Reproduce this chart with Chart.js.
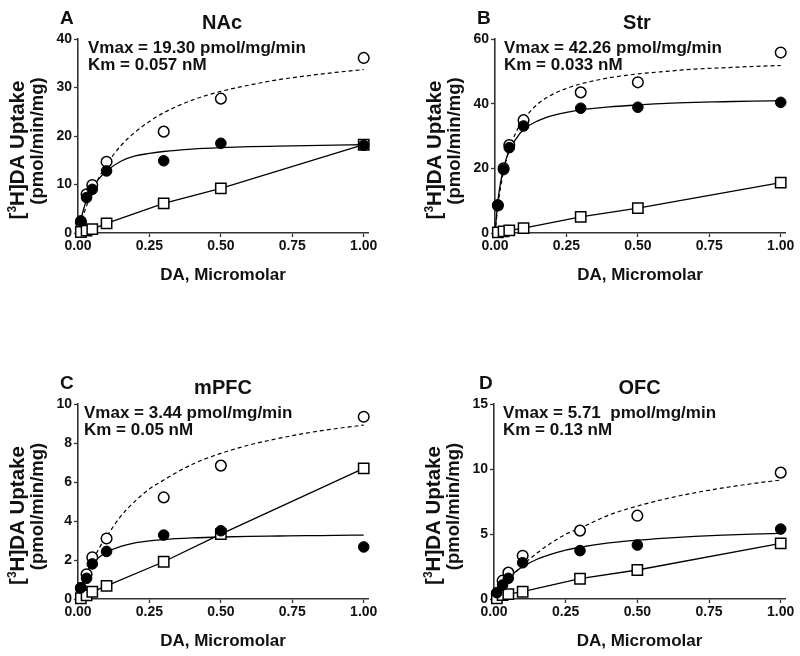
<!DOCTYPE html>
<html>
<head>
<meta charset="utf-8">
<script src="https://cdn.jsdelivr.net/npm/chart.js@4.4.1/dist/chart.umd.min.js"></script>
<style>
html,body{margin:0;padding:0;background:#fff;width:800px;height:656px;overflow:hidden;}
canvas{position:absolute;}
</style>
</head>
<body>
<canvas id="cA" width="400" height="290" style="left:0px;top:0px"></canvas>
<canvas id="cB" width="400" height="290" style="left:400px;top:0px"></canvas>
<canvas id="cC" width="400" height="290" style="left:0px;top:366px"></canvas>
<canvas id="cD" width="400" height="290" style="left:400px;top:366px"></canvas>
<script>
// ---------- data ----------
const X_TICKS = [0, 0.25, 0.5, 0.75, 1.0];
const DOSE = [0.01, 0.03, 0.05, 0.1, 0.3, 0.5, 1.0];
const FIT_X = [0, 0.01, 0.02, 0.03, 0.05, 0.075, 0.1, 0.15, 0.2, 0.25, 0.3, 0.4, 0.5, 0.6, 0.7, 0.8, 0.9, 1.0];

const PANEL_LETTERS = ["A", "B", "C", "D"];
const PANEL_TITLES = ["NAc", "Str", "mPFC", "OFC"];
const VMAX_LINES = ["Vmax = 19.30 pmol/mg/min", "Vmax = 42.26 pmol/mg/min", "Vmax = 3.44 pmol/mg/min", "Vmax = 5.71  pmol/mg/min"];
const KM_LINES = ["Km = 0.057 nM", "Km = 0.033 nM", "Km = 0.05 nM", "Km = 0.13 nM"];
const X_TITLE = "DA, Micromolar";
const Y_TITLE_PRE = "[";
const Y_TITLE_SUP = "3";
const Y_TITLE_POST = "H]DA Uptake";
const Y_TITLE_2 = "(pmol/min/mg)";

const Y_TICKS_A = [0, 10, 20, 30, 40];
const Y_TICKS_B = [0, 20, 40, 60];
const Y_TICKS_C = [0, 2, 4, 6, 8, 10];
const Y_TICKS_D = [0, 5, 10, 15];

// NAc
const NAC_TOTAL = [2.2, 8.0, 9.9, 14.7, 20.9, 27.7, 36.1];
const NAC_SPECIFIC = [2.5, 7.3, 9.0, 12.8, 14.9, 18.5, 18.1];
const NAC_NONSPEC = [0.2, 0.5, 0.8, 2.0, 6.1, 9.2, 18.2];
const NAC_TOTAL_FIT = [0, 2.1, 3.9, 5.6, 8.6, 11.6, 14.1, 18.0, 20.8, 23.0, 24.8, 27.4, 29.2, 30.5, 31.6, 32.4, 33.1, 33.7];
const NAC_SPEC_FIT = [0, 2.8, 5.0, 6.8, 9.2, 11.3, 12.8, 14.8, 15.9, 16.4, 16.8, 17.3, 17.6, 17.8, 17.9, 18.0, 18.1, 18.2];

// Str
const STR_TOTAL = [8.5, 20.0, 27.2, 34.9, 43.5, 46.6, 55.8];
const STR_SPECIFIC = [8.7, 19.6, 26.4, 33.1, 38.6, 38.9, 40.4];
const STR_NONSPEC = [0.2, 0.5, 0.8, 1.5, 5.0, 7.7, 15.6];
const STR_TOTAL_FIT = [0, 8.3, 14.4, 19.1, 25.9, 31.4, 35.1, 39.9, 42.8, 44.7, 46.1, 48.0, 49.2, 50.0, 50.7, 51.1, 51.5, 51.8];
const STR_SPEC_FIT = [0, 9.8, 15.9, 20.1, 25.5, 29.3, 32.0, 34.7, 36.3, 37.3, 38.1, 39.0, 39.6, 40.1, 40.4, 40.6, 40.8, 40.9];

// mPFC
const PFC_TOTAL = [0.55, 1.27, 2.14, 3.1, 5.21, 6.84, 9.35];
const PFC_SPECIFIC = [0.58, 1.06, 1.8, 2.44, 3.28, 3.5, 2.67];
const PFC_NONSPEC = [0.04, 0.19, 0.37, 0.67, 1.91, 3.33, 6.7];
const PFC_TOTAL_FIT = [0, 0.44, 0.85, 1.23, 1.9, 2.63, 3.2, 4.25, 5.02, 5.64, 6.1, 6.91, 7.47, 7.9, 8.23, 8.51, 8.73, 8.92];
const PFC_SPEC_FIT = [0, 0.6, 1.0, 1.35, 1.8, 2.15, 2.4, 2.7, 2.88, 2.98, 3.05, 3.13, 3.18, 3.21, 3.23, 3.25, 3.26, 3.28];

// OFC
const OFC_TOTAL = [0.4, 1.41, 2.03, 3.33, 5.26, 6.41, 9.72];
const OFC_SPECIFIC = [0.49, 1.08, 1.59, 2.79, 3.72, 4.15, 5.38];
const OFC_NONSPEC = [0.05, 0.3, 0.38, 0.56, 1.56, 2.23, 4.28];
const OFC_TOTAL_FIT = [0, 0.32, 0.62, 0.91, 1.45, 2.06, 2.6, 3.54, 4.32, 4.98, 5.45, 6.45, 7.15, 7.71, 8.17, 8.55, 8.87, 9.15];
const OFC_SPEC_FIT = [0, 0.41, 0.76, 1.07, 1.59, 2.09, 2.48, 3.06, 3.46, 3.76, 3.98, 4.31, 4.53, 4.69, 4.82, 4.91, 4.99, 5.05];

// ---------- rendering ----------
const FAMILY = '"Liberation Sans", Arial, Helvetica, sans-serif';
const INK = '#111';

const panels = [
  {id:'cA', i:0, yMax:40, yTicks:Y_TICKS_A, total:NAC_TOTAL, spec:NAC_SPECIFIC, non:NAC_NONSPEC, totFit:NAC_TOTAL_FIT, specFit:NAC_SPEC_FIT,
   axisW:78, padTop:39, padRight:32, letterX:60, titleDx:-1, textX:10},
  {id:'cB', i:1, yMax:60, yTicks:Y_TICKS_B, total:STR_TOTAL, spec:STR_SPECIFIC, non:STR_NONSPEC, totFit:STR_TOTAL_FIT, specFit:STR_SPEC_FIT,
   axisW:95, padTop:39, padRight:15, letterX:77, titleDx:-3, textX:9},
  {id:'cC', i:2, yMax:10, yTicks:Y_TICKS_C, total:PFC_TOTAL, spec:PFC_SPECIFIC, non:PFC_NONSPEC, totFit:PFC_TOTAL_FIT, specFit:PFC_SPEC_FIT,
   axisW:78, padTop:38, padRight:32, letterX:60, titleDx:0, textX:6},
  {id:'cD', i:3, yMax:15, yTicks:Y_TICKS_D, total:OFC_TOTAL, spec:OFC_SPECIFIC, non:OFC_NONSPEC, totFit:OFC_TOTAL_FIT, specFit:OFC_SPEC_FIT,
   axisW:94, padTop:38, padRight:15, letterX:79, titleDx:0, textX:9}
];

const textPlugin = {
  id: 'panelText',
  afterDraw(chart, args, opts) {
    const p = opts.panel;
    const ctx = chart.ctx;
    const ca = chart.chartArea;
    ctx.save();
    ctx.fillStyle = INK;
    ctx.textBaseline = 'alphabetic';
    // panel letter
    ctx.font = 'bold 19px ' + FAMILY;
    ctx.textAlign = 'left';
    ctx.fillText(PANEL_LETTERS[p.i], p.letterX, ca.top - 15);
    // title
    ctx.font = 'bold 20px ' + FAMILY;
    ctx.textAlign = 'center';
    ctx.fillText(PANEL_TITLES[p.i], (ca.left + ca.right) / 2 + p.titleDx, ca.top - 10);
    // Vmax / Km
    ctx.font = 'bold 17px ' + FAMILY;
    ctx.textAlign = 'left';
    ctx.fillText(VMAX_LINES[p.i], ca.left + p.textX, ca.top + 14);
    ctx.fillText(KM_LINES[p.i], ca.left + p.textX, ca.top + 30.5);
    // x title
    ctx.textAlign = 'center';
    ctx.fillText(X_TITLE, (ca.left + ca.right) / 2, ca.bottom + 47);
    // y title (rotated, two lines)
    const cy = (ca.top + ca.bottom) / 2 + 14;
    ctx.translate(p.axisW - 61, cy);
    ctx.rotate(-Math.PI / 2);
    const fMain = 'bold 20.5px ' + FAMILY;
    const fSup = 'bold 12px ' + FAMILY;
    ctx.font = fMain;
    const w1 = ctx.measureText(Y_TITLE_PRE).width;
    const w3 = ctx.measureText(Y_TITLE_POST).width;
    ctx.font = fSup;
    const w2 = ctx.measureText(Y_TITLE_SUP).width;
    let sx = -(w1 + w2 + w3) / 2;
    ctx.textAlign = 'left';
    ctx.font = fMain;
    ctx.fillText(Y_TITLE_PRE, sx, 7);
    ctx.font = fSup;
    ctx.fillText(Y_TITLE_SUP, sx + w1, -1.5);
    ctx.font = fMain;
    ctx.fillText(Y_TITLE_POST, sx + w1 + w2, 7);
    ctx.textAlign = 'center';
    ctx.font = 'bold 18.5px ' + FAMILY;
    ctx.fillText(Y_TITLE_2, 9, 25.5);
    ctx.restore();
  }
};

function pts(xs, ys) { return xs.map((x, k) => ({x: x, y: ys[k]})); }

function makePanel(p) {
  const tickFont = {family: FAMILY, size: 14, weight: 'bold'};
  new Chart(document.getElementById(p.id), {
    type: 'scatter',
    data: {
      datasets: [
        {data: pts(DOSE, p.spec), showLine: false, pointStyle: 'circle', pointRadius: 5.3,
         pointBackgroundColor: '#000', pointBorderColor: '#000', pointBorderWidth: 1, clip: false, order: 0},
        {data: pts(DOSE, p.non), showLine: true, borderColor: '#000', borderWidth: 1.3, tension: 0,
         pointStyle: 'rect', pointRadius: 7.3, pointBackgroundColor: '#fff', pointBorderColor: '#000', pointBorderWidth: 1.5, clip: false, order: 1},
        {data: pts(DOSE, p.total), showLine: false, pointStyle: 'circle', pointRadius: 5.3,
         pointBackgroundColor: '#fff', pointBorderColor: '#000', pointBorderWidth: 1.5, clip: false, order: 2},
        {data: pts(FIT_X, p.specFit), showLine: true, borderColor: '#000', borderWidth: 1.3, pointRadius: 0,
         cubicInterpolationMode: 'monotone', clip: false, order: 3},
        {data: pts(FIT_X, p.totFit), showLine: true, borderColor: '#000', borderWidth: 1.2, borderDash: [4, 3], pointRadius: 0,
         cubicInterpolationMode: 'monotone', clip: false, order: 4}
      ]
    },
    options: {
      responsive: false, animation: false, devicePixelRatio: 1,
      layout: {padding: {top: p.padTop, right: p.padRight, left: 0, bottom: 0}},
      plugins: {legend: {display: false}, tooltip: {enabled: false}, title: {display: false}, panelText: {panel: p}},
      scales: {
        x: {
          type: 'linear', min: 0, max: 1.015,
          afterBuildTicks: s => { s.ticks = X_TICKS.map(v => ({value: v})); },
          afterFit: s => { s.height = 57; },
          ticks: {font: tickFont, color: INK, padding: 1, maxRotation: 0, autoSkip: false, callback: v => Number(v).toFixed(2)},
          grid: {display: true, drawOnChartArea: false, drawTicks: true, tickLength: 4, tickColor: '#333', tickWidth: 1.3},
          border: {display: true, color: '#333', width: 1.6}
        },
        y: {
          type: 'linear', min: 0, max: p.yMax,
          afterBuildTicks: s => { s.ticks = p.yTicks.map(v => ({value: v})); },
          afterFit: s => { s.width = p.axisW; },
          ticks: {font: tickFont, color: INK, padding: 2, autoSkip: false, callback: v => String(v)},
          grid: {display: true, drawOnChartArea: false, drawTicks: true, tickLength: 4, tickColor: '#333', tickWidth: 1.3},
          border: {display: true, color: '#333', width: 1.6}
        }
      }
    },
    plugins: [textPlugin]
  });
}

panels.forEach(makePanel);
</script>
</body>
</html>
